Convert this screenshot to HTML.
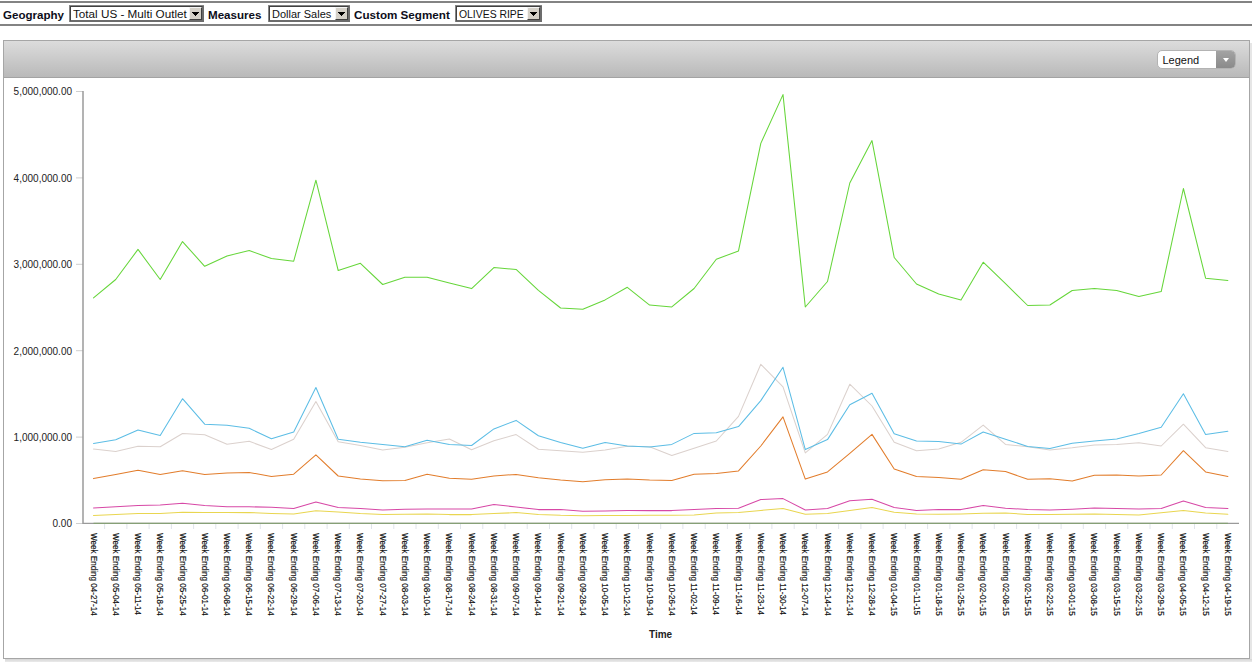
<!DOCTYPE html>
<html><head><meta charset="utf-8"><style>
*{box-sizing:border-box}
html,body{margin:0;padding:0;background:#fff;width:1252px;height:664px;overflow:hidden;position:relative;font-family:"Liberation Sans",sans-serif}
.tb{position:absolute;left:0;top:1px;width:1252px;height:25px;border-top:2px solid #838383;border-bottom:2px solid #838383}
.lbl{position:absolute;top:10px;font-weight:bold;font-size:10px;transform-origin:0 0;color:#0d0d1a;line-height:12px;white-space:nowrap}
.sel{position:absolute;top:5px;height:17px;background:#fff;border:2px solid;border-color:#404040 #6c6c6c #6c6c6c #404040}
.sel:before{content:"";position:absolute;left:-2px;top:-2px;right:-2px;bottom:-2px;border-top:1px solid #858585;border-left:1px solid #858585}
.sel .t{position:absolute;left:2px;top:2px;font-size:10px;transform-origin:0 0;line-height:12px;color:#111;white-space:nowrap}
.sel .b{position:absolute;right:0;top:0;width:13px;height:13px;background:#d4d0c8;border-top:1px solid #f4f4f4;border-left:1px solid #f4f4f4;border-right:1px solid #404040;border-bottom:1px solid #404040}
.sel .b svg{position:absolute;left:2px;top:4px}
.panel{position:absolute;left:3px;top:40px;width:1247px;height:619px;border:1px solid #a6a6a6;background:#fff}
.shr{position:absolute;left:1250px;top:43px;width:2px;height:619px;background:#e6e6e6}
.shb{position:absolute;left:5px;top:659px;width:1247px;height:3px;background:linear-gradient(#d6d6d6,#eaeaea)}
.hdr{position:absolute;left:0;top:0;width:1245px;height:37px;background:linear-gradient(#dcdcdc,#b9b9b9);border-bottom:1px solid #a3a3a3}
.leg{position:absolute;left:1153px;top:9px;width:79px;height:19px;border-radius:5px;background:#fff;border:1px solid #b3b3b3;overflow:hidden}
.leg .t{position:absolute;left:4.5px;top:3px;font-size:11px;line-height:13px;color:#111}
.leg .b{position:absolute;right:0;top:0;width:19px;height:17px;background:linear-gradient(#a3a3a3,#8a8a8a)}
.leg .b:after{content:"";position:absolute;left:6.5px;top:7px;border-left:3.5px solid transparent;border-right:3.5px solid transparent;border-top:4px solid #fff}
.yl{position:absolute;right:1180px;font-size:10px;line-height:12px;color:#222;white-space:nowrap;text-align:right}
.xl{position:absolute;top:533.4px;font-size:9px;line-height:9px;color:#111;white-space:nowrap;transform-origin:0 0;transform:rotate(90deg) translate(0,-3.8px) scaleX(0.90);-webkit-text-stroke:0.15px #000}
.ttl{position:absolute;left:649px;top:629px;font-size:10px;font-weight:bold;color:#222}
svg{position:absolute;left:0;top:0}
</style></head><body>
<div class="tb"></div>
<div class="lbl" style="left:3px;transform:scaleX(1.154)">Geography</div>
<div class="sel" style="left:69px;width:135px"><div class="t" style="transform:scaleX(1.17)">Total US - Multi Outlet</div><div class="b"><svg width="7" height="4" viewBox="0 0 7 4" shape-rendering="crispEdges"><polygon points="0,0 7,0 3.5,4" fill="#000"/></svg></div></div>
<div class="lbl" style="left:208px;transform:scaleX(1.16)">Measures</div>
<div class="sel" style="left:268px;width:82px"><div class="t" style="transform:scaleX(1.10)">Dollar Sales</div><div class="b"><svg width="7" height="4" viewBox="0 0 7 4" shape-rendering="crispEdges"><polygon points="0,0 7,0 3.5,4" fill="#000"/></svg></div></div>
<div class="lbl" style="left:354px;transform:scaleX(1.165)">Custom Segment</div>
<div class="sel" style="left:455px;width:87px"><div class="t" style="transform:scaleX(1.04)">OLIVES RIPE</div><div class="b"><svg width="7" height="4" viewBox="0 0 7 4" shape-rendering="crispEdges"><polygon points="0,0 7,0 3.5,4" fill="#000"/></svg></div></div>
<div class="shr"></div><div class="shb"></div><div class="panel"><div class="hdr"><div class="leg"><div class="t">Legend</div><div class="b"></div></div></div></div>
<svg width="1252" height="664" viewBox="0 0 1252 664">
<g stroke="#cfcfcf" stroke-width="1"><line x1="76" y1="91.5" x2="83" y2="91.5"/><line x1="76" y1="177.9" x2="83" y2="177.9"/><line x1="76" y1="264.3" x2="83" y2="264.3"/><line x1="76" y1="350.7" x2="83" y2="350.7"/><line x1="76" y1="437.1" x2="83" y2="437.1"/><line x1="76" y1="523.5" x2="83" y2="523.5"/></g>
<g stroke="#e0e4ea" stroke-width="1"><line x1="104.6" y1="523.5" x2="104.6" y2="529"/><line x1="126.9" y1="523.5" x2="126.9" y2="529"/><line x1="149.1" y1="523.5" x2="149.1" y2="529"/><line x1="171.4" y1="523.5" x2="171.4" y2="529"/><line x1="193.6" y1="523.5" x2="193.6" y2="529"/><line x1="215.8" y1="523.5" x2="215.8" y2="529"/><line x1="238.1" y1="523.5" x2="238.1" y2="529"/><line x1="260.3" y1="523.5" x2="260.3" y2="529"/><line x1="282.6" y1="523.5" x2="282.6" y2="529"/><line x1="304.8" y1="523.5" x2="304.8" y2="529"/><line x1="327.1" y1="523.5" x2="327.1" y2="529"/><line x1="349.3" y1="523.5" x2="349.3" y2="529"/><line x1="371.5" y1="523.5" x2="371.5" y2="529"/><line x1="393.8" y1="523.5" x2="393.8" y2="529"/><line x1="416.0" y1="523.5" x2="416.0" y2="529"/><line x1="438.3" y1="523.5" x2="438.3" y2="529"/><line x1="460.5" y1="523.5" x2="460.5" y2="529"/><line x1="482.8" y1="523.5" x2="482.8" y2="529"/><line x1="505.0" y1="523.5" x2="505.0" y2="529"/><line x1="527.2" y1="523.5" x2="527.2" y2="529"/><line x1="549.5" y1="523.5" x2="549.5" y2="529"/><line x1="571.7" y1="523.5" x2="571.7" y2="529"/><line x1="594.0" y1="523.5" x2="594.0" y2="529"/><line x1="616.2" y1="523.5" x2="616.2" y2="529"/><line x1="638.5" y1="523.5" x2="638.5" y2="529"/><line x1="660.7" y1="523.5" x2="660.7" y2="529"/><line x1="682.9" y1="523.5" x2="682.9" y2="529"/><line x1="705.2" y1="523.5" x2="705.2" y2="529"/><line x1="727.4" y1="523.5" x2="727.4" y2="529"/><line x1="749.7" y1="523.5" x2="749.7" y2="529"/><line x1="771.9" y1="523.5" x2="771.9" y2="529"/><line x1="794.2" y1="523.5" x2="794.2" y2="529"/><line x1="816.4" y1="523.5" x2="816.4" y2="529"/><line x1="838.6" y1="523.5" x2="838.6" y2="529"/><line x1="860.9" y1="523.5" x2="860.9" y2="529"/><line x1="883.1" y1="523.5" x2="883.1" y2="529"/><line x1="905.4" y1="523.5" x2="905.4" y2="529"/><line x1="927.6" y1="523.5" x2="927.6" y2="529"/><line x1="949.9" y1="523.5" x2="949.9" y2="529"/><line x1="972.1" y1="523.5" x2="972.1" y2="529"/><line x1="994.3" y1="523.5" x2="994.3" y2="529"/><line x1="1016.6" y1="523.5" x2="1016.6" y2="529"/><line x1="1038.8" y1="523.5" x2="1038.8" y2="529"/><line x1="1061.1" y1="523.5" x2="1061.1" y2="529"/><line x1="1083.3" y1="523.5" x2="1083.3" y2="529"/><line x1="1105.6" y1="523.5" x2="1105.6" y2="529"/><line x1="1127.8" y1="523.5" x2="1127.8" y2="529"/><line x1="1150.0" y1="523.5" x2="1150.0" y2="529"/><line x1="1172.3" y1="523.5" x2="1172.3" y2="529"/><line x1="1194.5" y1="523.5" x2="1194.5" y2="529"/><line x1="1216.8" y1="523.5" x2="1216.8" y2="529"/></g>
<line x1="83" y1="91" x2="83" y2="524" stroke="#9a9a9a" stroke-width="1.5"/>
<line x1="83" y1="523.4" x2="1239" y2="523.4" stroke="#9a9a9a" stroke-width="1.4"/>
<line x1="93.5" y1="523.4" x2="1227.9" y2="523.4" stroke="#86a076" stroke-width="1.3"/>
<g fill="none" stroke-width="1.05" stroke-linejoin="round" stroke-linecap="round">
<polyline points="93.5,449.1 115.7,451.6 138.0,446.3 160.2,446.8 182.5,433.5 204.7,434.7 227.0,444.3 249.2,441.3 271.4,449.5 293.7,439.2 315.9,401.6 338.2,441.7 360.4,445.5 382.7,450.0 404.9,447.3 427.1,442.8 449.4,439.0 471.6,449.8 493.9,440.7 516.1,434.6 538.4,449.2 560.6,450.7 582.8,452.3 605.1,450.0 627.3,446.2 649.6,446.8 671.8,455.4 694.1,448.2 716.3,441.0 738.5,416.4 760.8,364.3 783.0,386.9 805.3,452.9 827.5,434.4 849.8,384.2 872.0,406.0 894.2,442.3 916.5,450.8 938.7,449.0 961.0,442.3 983.2,425.1 1005.5,444.4 1027.7,446.8 1049.9,449.9 1072.2,447.7 1094.4,445.0 1116.7,444.4 1138.9,442.8 1161.2,446.0 1183.4,424.2 1205.6,447.7 1227.9,451.4" stroke="#dbd1cd"/>
<polyline points="93.5,443.5 115.7,439.7 138.0,430.0 160.2,435.5 182.5,398.7 204.7,424.2 227.0,425.2 249.2,428.3 271.4,438.7 293.7,432.0 315.9,387.5 338.2,439.2 360.4,442.3 382.7,444.4 404.9,446.7 427.1,440.3 449.4,444.5 471.6,445.5 493.9,428.9 516.1,420.4 538.4,435.7 560.6,442.4 582.8,448.2 605.1,442.5 627.3,445.9 649.6,447.1 671.8,444.4 694.1,433.4 716.3,432.7 738.5,426.6 760.8,400.6 783.0,367.3 805.3,449.6 827.5,439.6 849.8,404.8 872.0,393.2 894.2,433.8 916.5,441.0 938.7,441.4 961.0,444.1 983.2,432.0 1005.5,439.2 1027.7,446.4 1049.9,448.6 1072.2,443.2 1094.4,441.0 1116.7,439.0 1138.9,433.6 1161.2,427.3 1183.4,393.8 1205.6,434.5 1227.9,431.3" stroke="#5cbde5"/>
<polyline points="93.5,478.6 115.7,474.4 138.0,470.3 160.2,474.4 182.5,470.8 204.7,474.4 227.0,473.1 249.2,472.4 271.4,476.6 293.7,474.2 315.9,454.9 338.2,476.0 360.4,478.9 382.7,480.7 404.9,480.5 427.1,474.3 449.4,478.3 471.6,479.2 493.9,476.0 516.1,474.4 538.4,477.8 560.6,480.0 582.8,481.7 605.1,479.8 627.3,479.0 649.6,480.1 671.8,480.4 694.1,474.3 716.3,473.6 738.5,470.9 760.8,446.0 783.0,416.9 805.3,479.1 827.5,471.9 849.8,453.4 872.0,434.4 894.2,469.0 916.5,476.6 938.7,477.5 961.0,479.3 983.2,469.7 1005.5,471.5 1027.7,479.3 1049.9,478.8 1072.2,481.1 1094.4,475.3 1116.7,475.1 1138.9,476.0 1161.2,475.0 1183.4,450.7 1205.6,471.9 1227.9,476.4" stroke="#e27d2c"/>
<polyline points="93.5,515.4 115.7,514.6 138.0,513.4 160.2,513.4 182.5,512.2 204.7,512.4 227.0,512.6 249.2,512.6 271.4,513.4 293.7,514.0 315.9,510.8 338.2,512.0 360.4,513.6 382.7,514.4 404.9,514.2 427.1,514.0 449.4,514.6 471.6,514.6 493.9,513.6 516.1,512.6 538.4,514.4 560.6,515.3 582.8,515.7 605.1,515.5 627.3,515.5 649.6,515.3 671.8,515.3 694.1,515.0 716.3,513.0 738.5,512.5 760.8,510.4 783.0,508.6 805.3,514.2 827.5,513.5 849.8,510.4 872.0,507.6 894.2,512.3 916.5,514.0 938.7,514.3 961.0,514.0 983.2,513.3 1005.5,513.0 1027.7,514.5 1049.9,514.5 1072.2,514.3 1094.4,514.0 1116.7,514.5 1138.9,515.0 1161.2,512.7 1183.4,510.6 1205.6,513.0 1227.9,514.3" stroke="#e9d650"/>
<polyline points="93.5,508.0 115.7,506.8 138.0,505.4 160.2,505.0 182.5,503.2 204.7,505.6 227.0,506.8 249.2,506.8 271.4,507.2 293.7,508.6 315.9,502.0 338.2,507.6 360.4,508.6 382.7,510.0 404.9,509.2 427.1,509.0 449.4,509.0 471.6,509.0 493.9,504.6 516.1,507.0 538.4,509.6 560.6,509.5 582.8,511.3 605.1,511.0 627.3,510.6 649.6,510.6 671.8,510.6 694.1,509.6 716.3,508.6 738.5,508.2 760.8,499.6 783.0,498.6 805.3,510.0 827.5,508.6 849.8,500.8 872.0,499.2 894.2,507.4 916.5,510.4 938.7,509.6 961.0,509.6 983.2,505.4 1005.5,508.2 1027.7,509.5 1049.9,510.0 1072.2,509.2 1094.4,508.0 1116.7,508.6 1138.9,509.0 1161.2,508.6 1183.4,501.0 1205.6,507.4 1227.9,508.4" stroke="#d748a6"/>
<polyline points="93.5,297.9 115.7,279.5 138.0,249.4 160.2,279.5 182.5,241.6 204.7,266.3 227.0,255.9 249.2,250.6 271.4,258.5 293.7,261.2 315.9,180.2 338.2,270.5 360.4,263.3 382.7,284.5 404.9,277.3 427.1,277.3 449.4,282.9 471.6,288.6 493.9,267.6 516.1,269.4 538.4,290.3 560.6,308.0 582.8,309.3 605.1,299.9 627.3,287.3 649.6,305.1 671.8,306.9 694.1,288.5 716.3,259.3 738.5,250.9 760.8,143.4 783.0,94.6 805.3,307.0 827.5,281.5 849.8,183.0 872.0,140.6 894.2,257.5 916.5,284.0 938.7,294.0 961.0,300.1 983.2,262.2 1005.5,283.7 1027.7,305.5 1049.9,305.0 1072.2,290.5 1094.4,288.6 1116.7,290.5 1138.9,296.5 1161.2,291.6 1183.4,188.5 1205.6,278.2 1227.9,280.5" stroke="#66d63a"/>
</g>
</svg>
<div class="yl" style="top:86.3px">5,000,000.00</div>
<div class="yl" style="top:172.7px">4,000,000.00</div>
<div class="yl" style="top:259.1px">3,000,000.00</div>
<div class="yl" style="top:345.5px">2,000,000.00</div>
<div class="yl" style="top:431.9px">1,000,000.00</div>
<div class="yl" style="top:518.3px">0.00</div>

<div class="xl" style="left:93.5px">Week Ending 04-27-14</div>
<div class="xl" style="left:115.7px">Week Ending 05-04-14</div>
<div class="xl" style="left:138.0px">Week Ending 05-11-14</div>
<div class="xl" style="left:160.2px">Week Ending 05-18-14</div>
<div class="xl" style="left:182.5px">Week Ending 05-25-14</div>
<div class="xl" style="left:204.7px">Week Ending 06-01-14</div>
<div class="xl" style="left:227.0px">Week Ending 06-08-14</div>
<div class="xl" style="left:249.2px">Week Ending 06-15-14</div>
<div class="xl" style="left:271.4px">Week Ending 06-22-14</div>
<div class="xl" style="left:293.7px">Week Ending 06-29-14</div>
<div class="xl" style="left:315.9px">Week Ending 07-06-14</div>
<div class="xl" style="left:338.2px">Week Ending 07-13-14</div>
<div class="xl" style="left:360.4px">Week Ending 07-20-14</div>
<div class="xl" style="left:382.7px">Week Ending 07-27-14</div>
<div class="xl" style="left:404.9px">Week Ending 08-03-14</div>
<div class="xl" style="left:427.1px">Week Ending 08-10-14</div>
<div class="xl" style="left:449.4px">Week Ending 08-17-14</div>
<div class="xl" style="left:471.6px">Week Ending 08-24-14</div>
<div class="xl" style="left:493.9px">Week Ending 08-31-14</div>
<div class="xl" style="left:516.1px">Week Ending 09-07-14</div>
<div class="xl" style="left:538.4px">Week Ending 09-14-14</div>
<div class="xl" style="left:560.6px">Week Ending 09-21-14</div>
<div class="xl" style="left:582.8px">Week Ending 09-28-14</div>
<div class="xl" style="left:605.1px">Week Ending 10-05-14</div>
<div class="xl" style="left:627.3px">Week Ending 10-12-14</div>
<div class="xl" style="left:649.6px">Week Ending 10-19-14</div>
<div class="xl" style="left:671.8px">Week Ending 10-26-14</div>
<div class="xl" style="left:694.1px">Week Ending 11-02-14</div>
<div class="xl" style="left:716.3px">Week Ending 11-09-14</div>
<div class="xl" style="left:738.5px">Week Ending 11-16-14</div>
<div class="xl" style="left:760.8px">Week Ending 11-23-14</div>
<div class="xl" style="left:783.0px">Week Ending 11-30-14</div>
<div class="xl" style="left:805.3px">Week Ending 12-07-14</div>
<div class="xl" style="left:827.5px">Week Ending 12-14-14</div>
<div class="xl" style="left:849.8px">Week Ending 12-21-14</div>
<div class="xl" style="left:872.0px">Week Ending 12-28-14</div>
<div class="xl" style="left:894.2px">Week Ending 01-04-15</div>
<div class="xl" style="left:916.5px">Week Ending 01-11-15</div>
<div class="xl" style="left:938.7px">Week Ending 01-18-15</div>
<div class="xl" style="left:961.0px">Week Ending 01-25-15</div>
<div class="xl" style="left:983.2px">Week Ending 02-01-15</div>
<div class="xl" style="left:1005.5px">Week Ending 02-08-15</div>
<div class="xl" style="left:1027.7px">Week Ending 02-15-15</div>
<div class="xl" style="left:1049.9px">Week Ending 02-22-15</div>
<div class="xl" style="left:1072.2px">Week Ending 03-01-15</div>
<div class="xl" style="left:1094.4px">Week Ending 03-08-15</div>
<div class="xl" style="left:1116.7px">Week Ending 03-15-15</div>
<div class="xl" style="left:1138.9px">Week Ending 03-22-15</div>
<div class="xl" style="left:1161.2px">Week Ending 03-29-15</div>
<div class="xl" style="left:1183.4px">Week Ending 04-05-15</div>
<div class="xl" style="left:1205.6px">Week Ending 04-12-15</div>
<div class="xl" style="left:1227.9px">Week Ending 04-19-15</div>

<div class="ttl">Time</div>
</body></html>
